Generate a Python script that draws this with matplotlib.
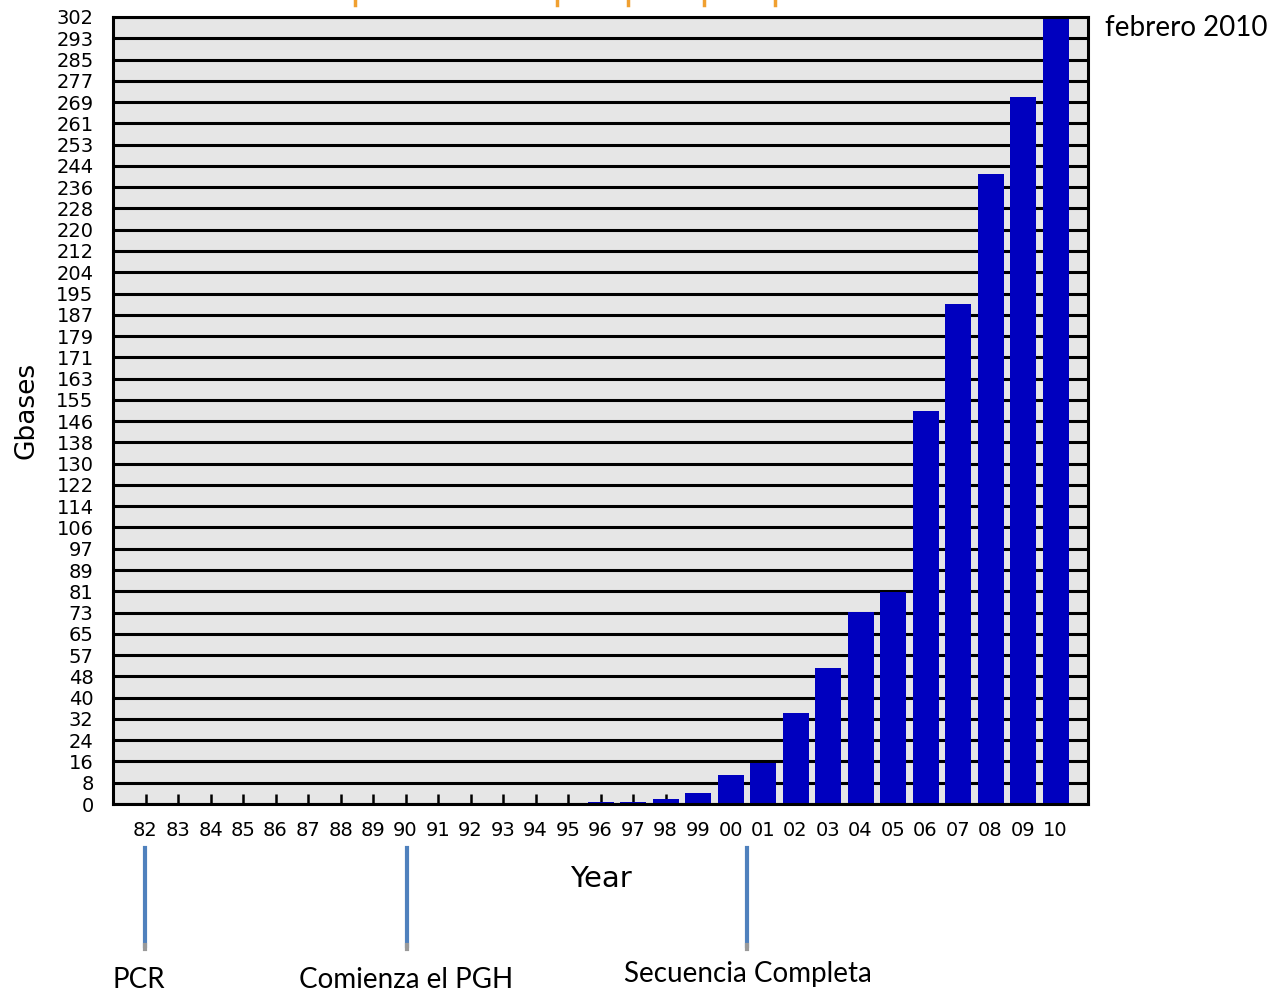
import matplotlib.pyplot as plt
import numpy as np

years = ["82", "83", "84", "85", "86", "87", "88", "89", "90", "91", "92", "93", "94", "95",
         "96", "97", "98", "99", "00", "01", "02", "03", "04", "05", "06", "07", "08", "09", "10"]
gbases = [0, 0, 0, 0, 0, 0, 0, 0, 0, 0, 0, 0, 0, 0,
          0.8, 0.8, 1.9, 4.2, 11.1, 15.8, 35.0, 52.2, 73.8, 81.4, 151.0, 191.7, 241.6, 271.2, 302.0]
ytick_labels = ["0", "8", "16", "24", "32", "40", "48", "57", "65", "73", "81", "89", "97",
                "106", "114", "122", "130", "138", "146", "155", "163", "171", "179", "187",
                "195", "204", "212", "220", "228", "236", "244", "253", "261", "269", "277",
                "285", "293", "302"]
ymax = 302

events = ["PCR", "Comienza el PGH", "Secuencia Completa"]

pix = ['DejaVu Sans']
txt = ['Lato', 'DejaVu Sans']

fig = plt.figure(figsize=(12.79, 9.93), dpi=100)
ax = fig.add_axes([113/1279, 1 - 804/993, 975/1279, 787/993])
ax.set_facecolor('#e6e6e6')

x = np.arange(len(years))
yticks = np.linspace(0, ymax, len(ytick_labels))

# gridlines under the bars
ax.hlines(yticks, -1, len(years), colors='black', linewidth=2.2, zorder=0.5)
ax.set_axisbelow(True)
ax.bar(x, gbases, width=0.8, color='#0000bf', zorder=1)

ax.set_xlim(-1, len(years))
ax.set_ylim(0, ymax)
ax.set_yticks(yticks)
ax.set_yticklabels(ytick_labels, family=pix, fontsize=14)
ax.set_xticks(x)
ax.set_xticklabels(years, family=pix, fontsize=14)
ax.tick_params(axis='y', length=0, pad=14)
ax.tick_params(axis='x', direction='in', length=7, width=1.8, pad=12)
for s in ax.spines.values():
    s.set_linewidth(2.2)

ax.set_ylabel("Gbases", family=pix, fontsize=19, labelpad=12)
ax.set_xlabel("Year", family=pix, fontsize=21, labelpad=18)

fig.text(1105/1279, 1 - 28/993, "febrero 2010", family=txt, fontsize=20, va='center', ha='left')

# event markers below the axis
ev_x = [145, 407, 747]
ev_tx = [139, 406, 748]
ev_ty = [980, 980, 974]
for name, px, tx, ty in zip(events, ev_x, ev_tx, ev_ty):
    fig.add_artist(plt.Line2D([px/1279, px/1279], [1 - 848/993, 1 - 946/993],
                              color='#4f81bd', linewidth=3))
    fig.add_artist(plt.Line2D([px/1279, px/1279], [1 - 945/993, 1 - 949/993],
                              color='#999999', linewidth=3))
    fig.text(tx/1279, 1 - ty/993, name, family=txt, fontsize=20, ha='center', va='center')

# small cut-off marks at the top edge
for mx in [355, 557, 628, 704, 775]:
    fig.add_artist(plt.Line2D([mx/1279, mx/1279], [1, 1 - 5/993], color='#f0a030', linewidth=2.5))

fig.savefig("out.png", dpi=100, facecolor='white')
